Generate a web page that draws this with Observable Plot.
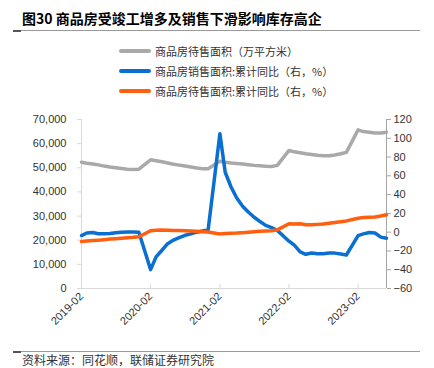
<!DOCTYPE html>
<html><head><meta charset="utf-8">
<script src="https://cdn.jsdelivr.net/npm/d3@7"></script>
<script src="https://cdn.jsdelivr.net/npm/@observablehq/plot@0.6"></script>
<style>
body{margin:0;width:434px;height:368px;position:relative;background:#fff;font-family:"Noto Sans CJK SC",sans-serif;overflow:hidden}
#title{position:absolute;left:22px;top:8px;font-size:14px;font-weight:bold;color:#000;white-space:nowrap;line-height:20px}
.hr{position:absolute;left:13px;width:407px;height:1px;background:#9a9a9a}
.hr i{position:absolute;left:0;top:0;width:8px;height:2px;background:#555}
#legend{position:absolute;left:119px;top:41px}
.item{display:flex;align-items:center;height:20px;font-size:11px;color:#333;white-space:nowrap}
.sw{width:32px;height:4px;border-radius:2px;margin-right:4px}
#chart{position:absolute;left:0;top:100px}
#caption{position:absolute;left:22px;top:352px;font-size:12px;color:#333;line-height:15px;white-space:nowrap}
</style>
</head><body>
<div id="title">图30 商品房受竣工增多及销售下滑影响库存高企</div>
<div class="hr" style="top:30px"><i></i></div>
<div id="legend"></div>
<div id="chart"></div>
<div class="hr" style="top:351px"><i></i></div>
<div id="caption">资料来源：同花顺，联储证券研究院</div>
<script>
const months = [
  "2019-02","2019-03","2019-04","2019-05","2019-06","2019-07","2019-08","2019-09","2019-10","2019-11","2019-12",
  "2020-02","2020-03","2020-04","2020-05","2020-06","2020-07","2020-08","2020-09","2020-10","2020-11","2020-12",
  "2021-02","2021-03","2021-04","2021-05","2021-06","2021-07","2021-08","2021-09","2021-10","2021-11","2021-12",
  "2022-02","2022-03","2022-04","2022-05","2022-06","2022-07","2022-08","2022-09","2022-10","2022-11","2022-12",
  "2023-02","2023-03","2023-04","2023-05","2023-06","2023-07"
];
// 商品房待售面积（万平方米）
const stockArea = [
  52300,51900,51600,51200,50700,50300,50000,49700,49400,49300,49400,
  53300,52900,52500,52000,51500,51100,50700,50300,49900,49600,49600,
  52700,52300,52000,51800,51600,51300,51000,50800,50600,50500,51000,
  57200,56600,56200,55800,55500,55200,55000,55000,55300,55800,56400,
  65700,65000,64700,64400,64400,64700
];
// 商品房销售面积:累计同比（%）
const salesYoY = [
  -3.6,-0.9,-0.3,-1.6,-1.8,-1.3,-0.6,-0.1,0.1,0.2,-0.1,
  -39.9,-26.3,-19.3,-12.3,-8.4,-5.8,-3.3,-1.8,0.0,1.3,2.6,
  104.9,63.8,48.1,36.4,27.7,21.5,15.9,11.3,7.2,4.8,1.9,
  -9.6,-13.8,-20.9,-23.6,-22.2,-23.1,-23.0,-22.2,-22.3,-23.3,-24.3,
  -3.6,-1.8,-0.4,-0.9,-5.3,-6.5
];
// 商品房待售面积:累计同比（%）
const stockYoY = [
  -10.0,-9.4,-9.0,-8.5,-8.0,-7.4,-6.9,-6.4,-5.9,-5.5,-4.9,
  1.5,2.0,2.2,2.0,1.9,1.9,1.6,1.3,0.9,0.5,0.1,
  -1.9,-1.5,-1.2,-1.0,-0.5,0.0,0.5,1.0,1.3,1.6,2.4,
  8.9,8.8,8.9,8.0,8.0,8.3,8.6,9.4,10.3,11.2,12.0,
  14.9,15.5,15.8,16.2,17.2,18.5
];
const xTickLabels = ["2019-02","2020-02","2021-02","2022-02","2023-02"];
const leftTicks = [0,10000,20000,30000,40000,50000,60000,70000];
const rightTicks = [-60,-40,-20,0,20,40,60,80,100,120];

const seriesNames = ["商品房待售面积（万平方米）","商品房销售面积:累计同比（右，%）","商品房待售面积:累计同比（右，%）"];
const colors = ["#a9a9a9","#0a6fd0","#ff5f0f"];

const parse = d3.utcParse("%Y-%m");
const data = months.map((m,i)=>({date:parse(m), stock:stockArea[i], sales:salesYoY[i], stockY:stockYoY[i]}));
const xt = xTickLabels.map(parse);
const L = 70000, rMin = -60, rMax = 120;
const toL = v => (v - rMin) / (rMax - rMin) * L;
const fromL = d => Math.round(d / L * (rMax - rMin) + rMin);
const fmtR = d3.format("");

const lg = document.getElementById("legend");
seriesNames.forEach((n,i)=>{
  const row = document.createElement("div"); row.className="item";
  row.innerHTML = `<span class="sw" style="background:${colors[i]}"></span><span>${n}</span>`;
  lg.appendChild(row);
});

const chart = Plot.plot({
  width:434, height:250,
  marginTop:19, marginBottom:62, marginLeft:81, marginRight:48,
  x:{type:"utc", domain:[data[0].date, data[data.length-1].date]},
  y:{domain:[0,L]},
  style:{fontFamily:"'Liberation Sans', Arial, sans-serif", fontSize:"11px", color:"#333", background:"transparent"},
  marks:[
    Plot.ruleY([0],{stroke:"#d9d9d9"}),
    Plot.ruleX([data[0].date],{stroke:"#d9d9d9"}),
    Plot.ruleX([data[data.length-1].date],{stroke:"#a6a6a6"}),
    Plot.ruleX(xt.slice(1),{y1:0, y2:1800, stroke:"#d9d9d9"}),
    Plot.axisY({ticks:leftTicks, tickFormat:d3.format(","), tickSize:4, tickPadding:11, stroke:"#d9d9d9", fill:"#333", label:null}),
    Plot.axisY({anchor:"right", ticks:rightTicks.map(toL), tickFormat:d=>fmtR(fromL(d)), tickSize:4, tickPadding:3, stroke:"#a6a6a6", fill:"#333", label:null}),
    Plot.axisX({ticks:xt, tickFormat:d3.utcFormat("%Y-%m"), tickRotate:-45, tickSize:0, tickPadding:6, fill:"#333", label:null}),
    Plot.lineY(data,{x:"date", y:"stock", stroke:colors[0], strokeWidth:3.5}),
    Plot.lineY(data,{x:"date", y:d=>toL(d.sales), stroke:colors[1], strokeWidth:3.5}),
    Plot.lineY(data,{x:"date", y:d=>toL(d.stockY), stroke:colors[2], strokeWidth:3.5})
  ]
});
document.getElementById("chart").appendChild(chart);
</script>
</body></html>
